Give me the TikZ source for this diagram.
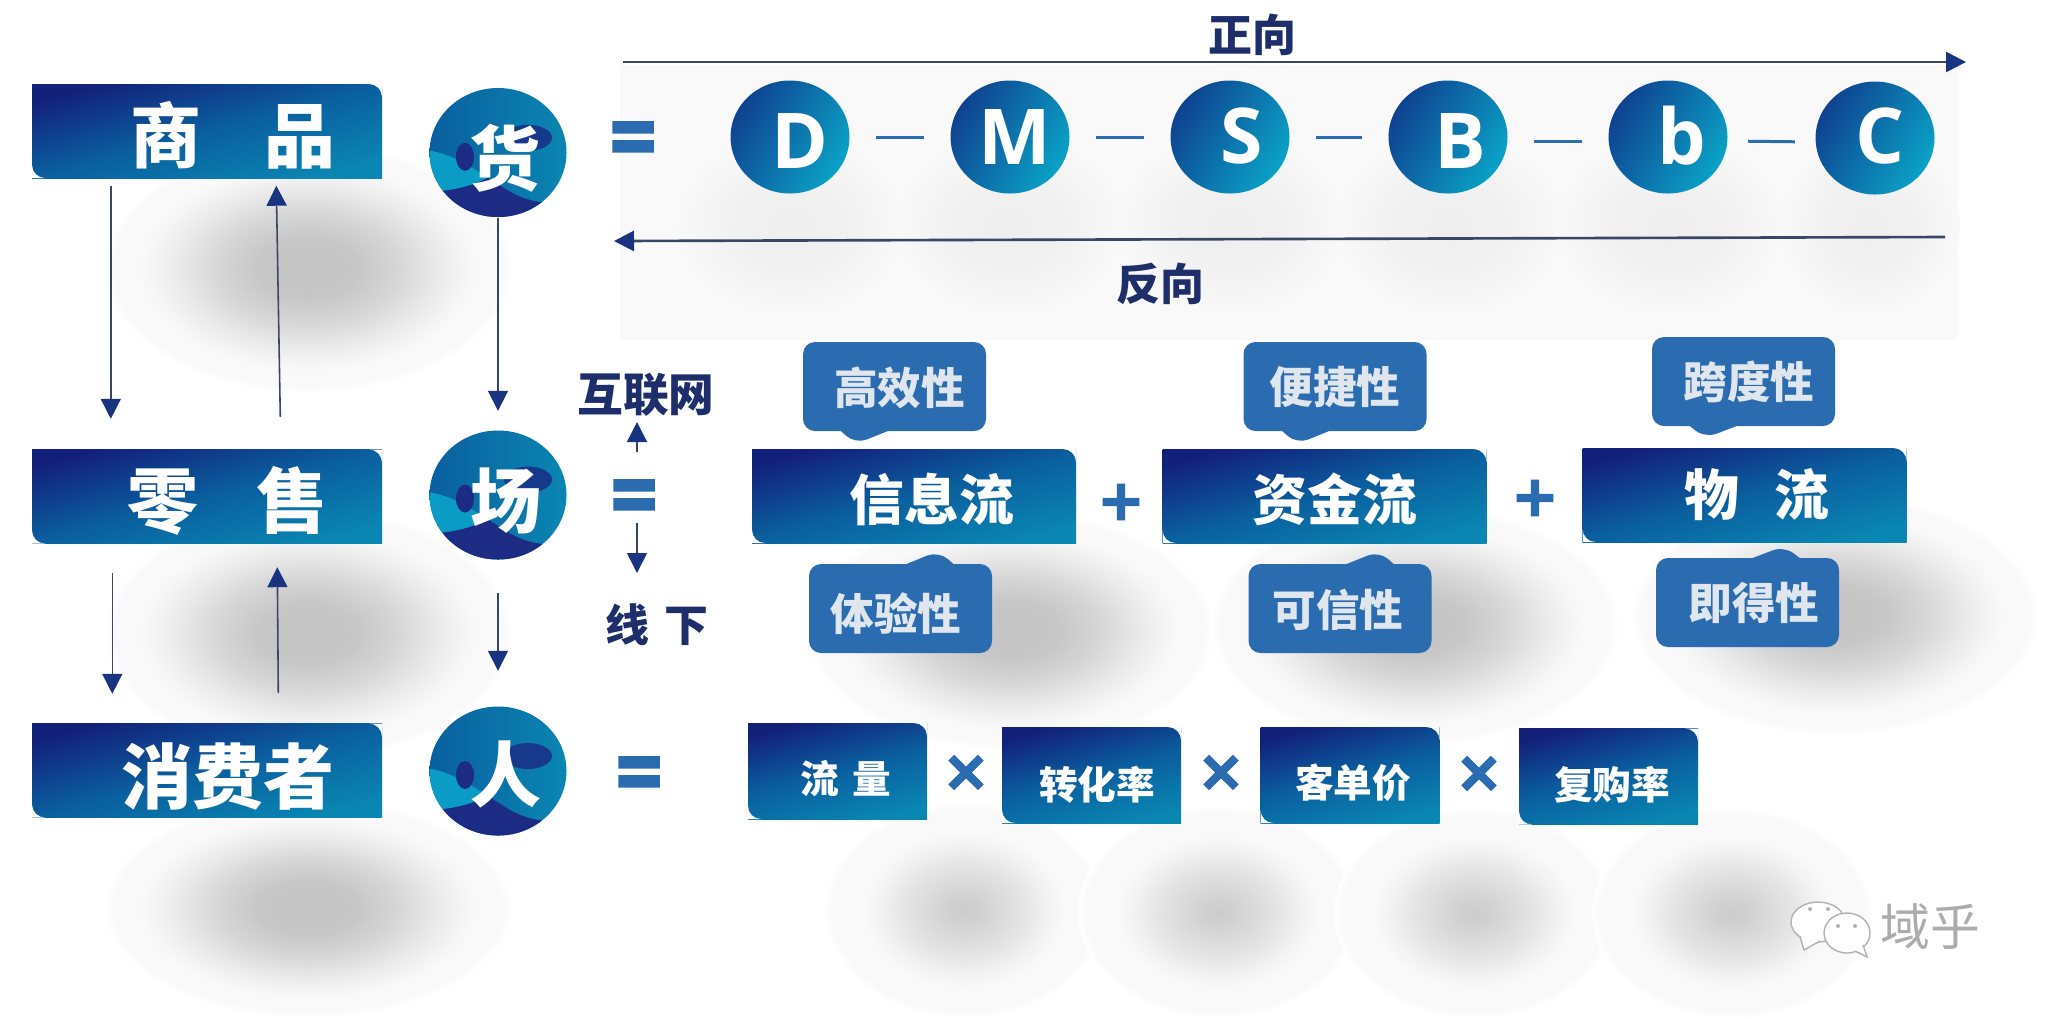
\documentclass[tikz,border=0pt]{standalone}
\usepackage{fontspec}
\setmainfont{Noto Sans CJK SC}
\newfontfamily\latinfont{Open Sans}
\newfontfamily\symbolfont[FakeBold=3]{DejaVu Sans Bold}
\usetikzlibrary{arrows.meta,shapes.geometric,shapes.callouts}
\definecolor{boxnavy}{HTML}{13207A}
\definecolor{boxmid}{HTML}{0A5F9F}
\definecolor{boxteal}{HTML}{0A86B2}
\definecolor{ballnavy}{HTML}{0F4290}
\definecolor{ballteal}{HTML}{0AA2C6}
\definecolor{swirlnavy}{HTML}{1C2C84}
\definecolor{swirlblue}{HTML}{0F4F9A}
\definecolor{swirlteal}{HTML}{0A9CC4}
\definecolor{bubbleblue}{HTML}{2A6CAF}
\definecolor{bubbletext}{HTML}{DFE6EE}
\definecolor{labelnavy}{HTML}{1D2E6B}
\definecolor{arrowblue}{HTML}{1A3380}
\definecolor{arrowline}{HTML}{3A4668}
\definecolor{haze}{HTML}{F9F9F9}
\pgfdeclareverticalshading{boxfade}{100bp}{color(0bp)=(boxteal); color(25bp)=(boxteal); color(50bp)=(boxmid); color(75bp)=(boxnavy); color(100bp)=(boxnavy)}
\pgfdeclareradialshading{blurwide}{\pgfpoint{0bp}{0bp}}{rgb(0bp)=(0.77,0.77,0.77); rgb(6bp)=(0.78,0.78,0.78); rgb(11bp)=(0.84,0.84,0.84); rgb(16bp)=(0.92,0.92,0.92); rgb(19bp)=(0.96,0.96,0.96); rgb(20.5bp)=(0.976,0.976,0.976); rgb(23.5bp)=(0.976,0.976,0.976); rgb(25bp)=(1,1,1); rgb(50bp)=(1,1,1)}
\pgfdeclareradialshading{blurround}{\pgfpoint{0bp}{0bp}}{rgb(0bp)=(0.8,0.8,0.8); rgb(3bp)=(0.82,0.82,0.82); rgb(7bp)=(0.86,0.86,0.86); rgb(11bp)=(0.9,0.9,0.9); rgb(15bp)=(0.95,0.95,0.95); rgb(18bp)=(0.976,0.976,0.976); rgb(23.5bp)=(0.976,0.976,0.976); rgb(25bp)=(1,1,1); rgb(50bp)=(1,1,1)}
\pgfdeclareradialshading{blurfaint}{\pgfpoint{0bp}{0bp}}{rgb(0bp)=(0.935,0.935,0.935); rgb(12bp)=(0.945,0.945,0.945); rgb(25bp)=(0.976,0.976,0.976); rgb(50bp)=(0.976,0.976,0.976)}
\newcommand{\nudge}[3]{\makebox[0pt]{\hspace*{#1}\raisebox{#2}[\height][\depth]{#3}}}
\tikzset{
    flowbox/.style={rectangle, shade, shading=boxfade, shading angle=15, inner sep=0pt, text=white,
        path picture={
            \fill[white] (path picture bounding box.north east) -- ++(-0.13,0) arc[start angle=90, end angle=0, radius=0.13] -- cycle;
            \fill[white] (path picture bounding box.south west) -- ++(0.13,0) arc[start angle=270, end angle=180, radius=0.13] -- cycle;
        }},
    sidebox/.style={flowbox, minimum width=3.5cm, minimum height=0.94cm, font=\fontsize{20.2pt}{20.2pt}\selectfont\bfseries},
    midbox/.style={flowbox, minimum width=3.24cm, minimum height=0.94cm, font=\fontsize{15.6pt}{15.6pt}\selectfont\bfseries},
    lowbox/.style={flowbox, minimum width=1.79cm, minimum height=0.96cm, font=\fontsize{11pt}{11pt}\selectfont\bfseries},
    bigball/.style={ellipse, left color=boxmid, right color=boxteal, minimum width=1.37cm, minimum height=1.29cm,
        inner sep=0pt, text=white, font=\fontsize{20.2pt}{20.2pt}\selectfont\bfseries,
        path picture={
            \begin{scope}[shift={(path picture bounding box.center)}]
                \fill[swirlnavy!75!boxmid, rotate around={-25:(0.3,0.42)}] (0.3,0.42) ellipse (0.24 and 0.13);
                \fill[swirlteal] (-0.75,0.3) .. controls (-0.5,0.28) and (-0.3,0.15) .. (-0.1,0.02) .. controls (-0.3,-0.08) and (-0.5,-0.12) .. (-0.75,-0.12) -- cycle;
                \fill[swirlnavy] (-0.75,-0.12) .. controls (-0.5,-0.12) and (-0.3,-0.08) .. (-0.1,0.02) .. controls (0.1,-0.1) and (0.3,-0.3) .. (0.75,-0.2) -- (0.75,-0.75) -- (-0.75,-0.75) -- cycle;
                \fill[swirlblue] (0.05,-0.75) .. controls (0.1,-0.45) and (0.35,-0.3) .. (0.75,-0.22) -- (0.75,-0.75) -- cycle;
                \fill[swirlnavy, rotate around={-40:(-0.33,0.23)}] (-0.33,0.23) ellipse (0.09 and 0.14);
            \end{scope}
        }},
    smallball/.style={ellipse, shade, left color=ballnavy, right color=ballteal, shading angle=60, minimum width=1.19cm, minimum height=1.13cm,
        inner sep=0pt, text=white, font=\latinfont\fontsize{21.9pt}{21.9pt}\selectfont\bfseries},
    bubble/.style={rectangle callout, fill=bubbleblue, rounded corners=0.12cm, minimum width=1.83cm, minimum height=0.89cm,
        inner sep=0pt, callout pointer width=0.47cm, text=bubbletext, font=\fontsize{12.4pt}{12.4pt}\selectfont\bfseries},
    headlabel/.style={inner sep=0pt, text=labelnavy, font=\fontsize{12.5pt}{12.5pt}\selectfont\bfseries},
    eqsign/.style={inner sep=0pt, text=bubbleblue, font=\symbolfont\fontsize{18pt}{18pt}\selectfont},
    opsign/.style={inner sep=0pt, text=bubbleblue, font=\symbolfont\fontsize{16pt}{16pt}\selectfont},
    thinarrow/.style={draw=arrowline, line width=0.45pt, -{Triangle[length=0.2cm, width=0.2cm, color=arrowblue]}},
    longarrow/.style={draw=arrowline, line width=0.75pt, -{Triangle[length=0.2cm, width=0.2cm, color=arrowblue]}},
    dashlink/.style={draw=bubbleblue, line width=0.85pt, shorten >=0.26cm, shorten <=0.26cm},
}
\begin{document}
\begin{tikzpicture}
    \useasboundingbox (0,0) rectangle (20.47,-10.18);
    \fill[white] (0,0) rectangle (20.47,-10.18);
    \fill[haze] (6.2,-0.65) rectangle (19.58,-3.4);
    \shade[shading=blurfaint] (7.9,-2.25) ellipse (1.15 and 0.9);
    \shade[shading=blurfaint] (10.1,-2.25) ellipse (1.15 and 0.9);
    \shade[shading=blurfaint] (12.3,-2.25) ellipse (1.15 and 0.9);
    \shade[shading=blurfaint] (14.5,-2.25) ellipse (1.15 and 0.9);
    \shade[shading=blurfaint] (16.7,-2.25) ellipse (1.15 and 0.9);
    \shade[shading=blurfaint] (18.7,-2.25) ellipse (0.9 and 0.9);

    \shade[shading=blurwide] (3.08,-2.68) ellipse (2.05 and 1.25);
    \shade[shading=blurwide] (3.08,-6.33) ellipse (2.05 and 1.25);
    \shade[shading=blurwide] (3.08,-9.08) ellipse (2.05 and 1.1);
    \shade[shading=blurwide] (10.1,-6.3) ellipse (2.05 and 1.2);
    \shade[shading=blurwide] (14.15,-6.25) ellipse (2.05 and 1.2);
    \shade[shading=blurwide] (18.35,-6.15) ellipse (2.05 and 1.2);
    \shade[shading=blurround] (9.64,-9.1) ellipse (1.4 and 1.08);
    \shade[shading=blurround] (12.18,-9.12) ellipse (1.4 and 1.06);
    \shade[shading=blurround] (14.74,-9.13) ellipse (1.4 and 1.05);
    \shade[shading=blurround] (17.32,-9.13) ellipse (1.4 and 1.05);

    \node[sidebox] (goods) at (2.07,-1.31) {\nudge{0.52cm}{-0.04cm}{商\hspace{0.63cm}品}};
    \node[sidebox] (retail) at (2.07,-4.965) {\nudge{0.41cm}{-0.04cm}{零\hspace{0.59cm}售}};
    \node[sidebox] (shopper) at (2.07,-7.705) {\nudge{0.42cm}{-0.06cm}{消费者}};

    \node[bigball] (huo) at (4.98,-1.525) {\nudge{0.13cm}{-0.06cm}{货}};
    \node[bigball] (chang) at (4.98,-4.95) {\nudge{0.16cm}{-0.06cm}{场}};
    \node[bigball] (ren) at (4.98,-7.71) {\nudge{0.16cm}{-0.03cm}{人}};

    \node[eqsign] (eqhuo) at (6.33,-1.43) {\scalebox{1}[1.35]{=}};
    \node[eqsign] (eqchang) at (6.34,-5.01) {\scalebox{1}[1.35]{=}};
    \node[eqsign] (eqren) at (6.39,-7.78) {\scalebox{1}[1.35]{=}};

    \node[smallball] (ballD) at (7.9,-1.37) {\nudge{0.2cm}{-0.04cm}{D}};
    \node[smallball] (ballM) at (10.1,-1.37) {\nudge{0.1cm}{0cm}{M}};
    \node[smallball] (ballS) at (12.3,-1.37) {\nudge{0.24cm}{0.01cm}{S}};
    \node[smallball] (ballB) at (14.48,-1.37) {\nudge{0.24cm}{-0.04cm}{B}};
    \node[smallball] (ballb) at (16.68,-1.37) {\nudge{0.28cm}{0.01cm}{b}};
    \node[smallball] (ballC) at (18.75,-1.38) {\nudge{0.1cm}{0.02cm}{C}};
    \draw[dashlink] (ballD.east) -- (ballM.west);
    \draw[dashlink] (ballM.east) -- (ballS.west);
    \draw[dashlink] (ballS.east) -- (ballB.west);
    \draw[dashlink] ([yshift=-0.04cm]ballB.east) -- ([yshift=-0.04cm]ballb.west);
    \draw[dashlink, shorten >=0.2cm, shorten <=0.2cm] ([yshift=-0.04cm]ballb.east) -- ([yshift=-0.04cm]ballC.west);

    \node[headlabel] (forward) at (12.52,-0.35) {正向};
    \node[headlabel] (backward) at (11.6,-2.84) {反向};
    \coordinate (fwdstart) at (6.23,-0.62);
    \coordinate (fwdend) at (19.66,-0.62);
    \coordinate (backstart) at (19.45,-2.37);
    \coordinate (backend) at (6.14,-2.41);
    \draw[longarrow] (fwdstart) -- (fwdend);
    \draw[longarrow] (backstart) -- (backend);

    \node[headlabel, font=\fontsize{13pt}{13pt}\selectfont\bfseries] (online) at (6.46,-3.95) {互联网};
    \node[headlabel] (offline) at (6.57,-6.25) {线\hspace{0.15cm}下};
    \draw[thinarrow] ([xshift=0.03cm,yshift=0.49cm]eqchang.center) -- ([xshift=-0.09cm,yshift=-0.27cm]online.center);
    \draw[thinarrow] ([xshift=0.03cm,yshift=-0.22cm]eqchang.center) -- ([xshift=-0.2cm,yshift=0.52cm]offline.center);

    \node[midbox] (infoflow) at (9.14,-4.96) {\nudge{0.36cm}{-0.03cm}{信息流}};
    \node[midbox] (cashflow) at (13.245,-4.96) {\nudge{0.21cm}{-0.03cm}{资金流}};
    \node[midbox] (goodsflow) at (17.445,-4.95) {\nudge{0.24cm}{0cm}{物\hspace{0.35cm}流}};
    \node[opsign] (plusa) at (11.21,-5.02) {+};
    \node[opsign] (plusb) at (15.35,-4.98) {+};

    \node[bubble, callout absolute pointer={(8.555,-4.44)}] (fast) at (8.945,-3.865) {\nudge{0.1cm}{-0.01cm}{高效性}};
    \node[bubble, callout absolute pointer={(9.386,-5.51)}] (feel) at (9.005,-6.085) {\nudge{-0.09cm}{-0.05cm}{体验性}};
    \node[bubble, callout absolute pointer={(12.97,-4.44)}] (handy) at (13.35,-3.865) {\nudge{0cm}{-0.01cm}{便捷性}};
    \node[bubble, callout absolute pointer={(13.79,-5.51)}] (trust) at (13.4,-6.085) {\nudge{-0.04cm}{-0.01cm}{可信性}};
    \node[bubble, callout absolute pointer={(17.05,-4.38)}] (span) at (17.435,-3.815) {\nudge{0.11cm}{0cm}{跨度性}};
    \node[bubble, callout absolute pointer={(17.84,-5.46)}] (instant) at (17.475,-6.025) {\nudge{0.13cm}{0cm}{即得性}};

    \node[lowbox] (traffic) at (8.375,-7.71) {\nudge{0.16cm}{-0.08cm}{流\hspace{0.13cm}量}};
    \node[lowbox] (convert) at (10.915,-7.75) {\nudge{0.11cm}{-0.1cm}{转化率}};
    \node[lowbox] (price) at (13.5,-7.75) {\nudge{0.06cm}{-0.08cm}{客单价}};
    \node[lowbox] (repeat) at (16.085,-7.765) {\nudge{0.07cm}{-0.08cm}{复购率}};
    \node[opsign] (timesa) at (9.66,-7.73) {×};
    \node[opsign] (timesb) at (12.21,-7.73) {×};
    \node[opsign] (timesc) at (14.79,-7.74) {×};

    \draw[thinarrow] ([xshift=0.795cm,yshift=-0.07cm]goods.south west) -- ([xshift=0.795cm,yshift=0.3cm]retail.north west);
    \draw[thinarrow] ([xshift=2.49cm,yshift=0.32cm]retail.north west) -- ([xshift=2.45cm,yshift=-0.07cm]goods.south west);
    \draw[thinarrow] (huo.south) -- ([yshift=0.19cm]chang.north);
    \draw[thinarrow] ([xshift=0.81cm,yshift=-0.29cm]retail.south west) -- ([xshift=0.81cm,yshift=0.29cm]shopper.north west);
    \draw[thinarrow] ([xshift=2.47cm,yshift=0.3cm]shopper.north west) -- ([xshift=2.46cm,yshift=-0.23cm]retail.south west);
    \draw[thinarrow] ([yshift=-0.33cm]chang.south) -- ([yshift=0.35cm]ren.north);

    \draw[gray!60, fill=white, line width=0.4pt] (18.18,-9.22) ellipse (0.27 and 0.2);
    \draw[gray!60, fill=white, line width=0.4pt] (18.0,-9.37) -- (18.04,-9.5) -- (18.2,-9.41);
    \draw[gray!60, fill=white, line width=0.4pt] (18.47,-9.33) ellipse (0.23 and 0.2);
    \draw[gray!60, fill=white, line width=0.4pt] (18.55,-9.51) -- (18.67,-9.57) -- (18.63,-9.45);
    \fill[gray!60] (18.1,-9.09) circle (0.02);
    \fill[gray!60] (18.28,-9.09) circle (0.02);
    \fill[gray!60] (18.38,-9.26) circle (0.02);
    \fill[gray!60] (18.55,-9.26) circle (0.02);
    \node[inner sep=0pt, text=gray!65, font=\fontsize{14.2pt}{14.2pt}\selectfont] (brand) at (19.3,-9.27) {域乎};
\end{tikzpicture}
\end{document}
